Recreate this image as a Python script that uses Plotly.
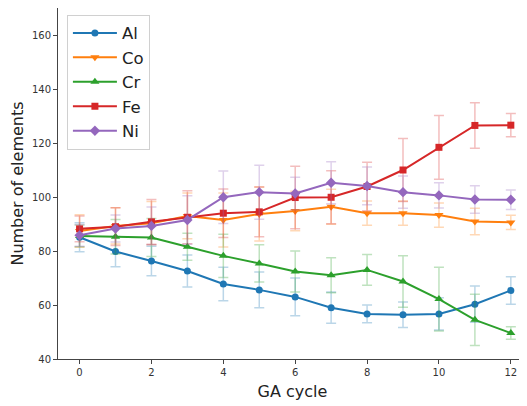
import plotly.graph_objects as go

cycles = list(range(13))
al = [85.1, 79.8, 76.3, 72.6, 67.8, 65.6, 63.0, 59.0, 56.7, 56.4, 56.7, 60.3, 65.4]
al_err = [5.4, 5.6, 5.5, 5.9, 6.2, 6.6, 7.0, 5.8, 3.3, 4.7, 6.0, 6.7, 5.1]
co = [87.4, 89.3, 90.3, 93.0, 91.5, 93.7, 94.8, 96.4, 94.0, 94.0, 93.3, 90.9, 90.6]
co_err = [6.0, 6.7, 8.0, 8.5, 10.0, 10.0, 7.3, 6.5, 4.5, 4.5, 4.5, 4.9, 2.6]
cr = [85.6, 85.3, 85.0, 81.6, 78.2, 75.4, 72.4, 71.0, 73.0, 68.7, 62.2, 54.5, 49.6]
cr_err = [4.0, 6.4, 7.0, 5.0, 8.0, 6.9, 7.6, 6.5, 5.7, 9.5, 11.8, 9.5, 2.3]
fe = [88.2, 89.0, 90.8, 92.5, 94.0, 94.5, 99.8, 99.9, 103.9, 110.0, 118.4, 126.5, 126.6]
fe_err = [4.8, 7.0, 8.3, 9.8, 9.0, 9.2, 11.6, 9.8, 9.0, 11.7, 11.8, 8.4, 4.3]
ni = [85.8, 88.3, 89.3, 91.5, 99.9, 101.8, 101.3, 105.3, 104.1, 101.8, 100.6, 99.1, 99.0]
ni_err = [4.0, 5.0, 7.0, 9.0, 9.7, 10.0, 6.0, 7.8, 7.0, 6.0, 4.7, 5.1, 3.6]

series = [
    ("Al", al, al_err, (31, 119, 180), "circle", 7),
    ("Co", co, co_err, (255, 127, 14), "triangle-down", 8),
    ("Cr", cr, cr_err, (44, 160, 44), "triangle-up", 8),
    ("Fe", fe, fe_err, (214, 39, 40), "square", 7),
    ("Ni", ni, ni_err, (148, 103, 189), "diamond", 8),
]

fig = go.Figure()
for name, vals, errs, (r, g, b), sym, sz in series:
    fig.add_trace(go.Scatter(
        x=cycles, y=vals, name=name, mode="lines+markers",
        line=dict(color=f"rgb({r},{g},{b})", width=2),
        marker=dict(symbol=sym, size=sz, color=f"rgb({r},{g},{b})"),
        error_y=dict(type="data", array=errs, visible=True,
                     color=f"rgba({r},{g},{b},0.3)", thickness=1.5, width=5),
    ))

axis_common = dict(
    showgrid=False, zeroline=False, showline=True, linecolor="#444", linewidth=1,
    ticks="outside", ticklen=4, tickcolor="#444", tickwidth=1, automargin=False,
    tickfont=dict(family="DejaVu Sans", size=10, color="#333"),
)
fig.update_layout(
    width=527, height=406,
    margin=dict(l=50, r=8, t=0, b=55),
    paper_bgcolor="white", plot_bgcolor="white",
    font=dict(family="DejaVu Sans", color="#222"),
    xaxis=dict(range=[-0.6, 12.45], tickmode="linear", tick0=0, dtick=2, mirror=True,
               title=dict(text="GA cycle", font=dict(size=16, color="#222"), standoff=8),
               **axis_common),
    yaxis=dict(range=[40, 170], tickmode="linear", tick0=40, dtick=20,
               title=dict(text="Number of elements", font=dict(size=16, color="#222"), standoff=4),
               **axis_common),
    legend=dict(x=0.019, y=0.981, xanchor="left", yanchor="top",
                bgcolor="rgba(255,255,255,0.85)", bordercolor="#d0d0d0", borderwidth=1,
                font=dict(family="DejaVu Sans", size=16.5, color="#222"),
                itemwidth=44, tracegroupgap=0),
    showlegend=True,
)
fig.write_html("out.html")
